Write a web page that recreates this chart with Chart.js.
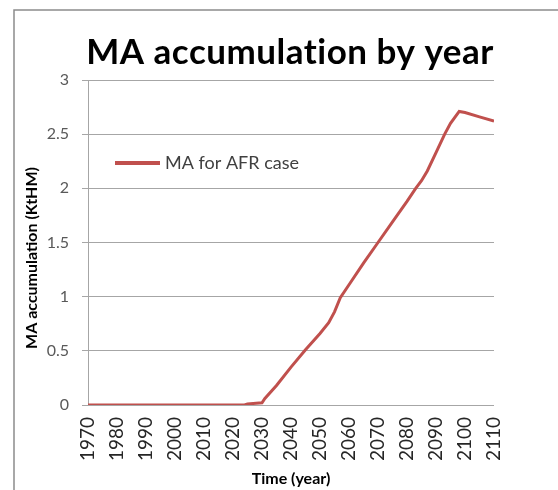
<!DOCTYPE html>
<html>
<head>
<meta charset="utf-8">
<script src="https://cdn.jsdelivr.net/npm/chart.js@4"></script>
<style>
  html, body { margin: 0; padding: 0; background: #fff; }
  #wrap { width: 558px; height: 490px; }
</style>
</head>
<body>
<div id="wrap"><canvas id="myChart" width="558" height="490"></canvas></div>
<script>
// MA accumulation per year, AFR case (KtHM)
const years = [1970, 2024, 2025, 2030, 2031, 2035, 2040, 2045, 2050, 2053, 2055, 2057, 2060, 2065, 2070, 2075, 2080, 2083, 2085, 2087, 2090, 2093, 2095, 2098, 2100, 2105, 2110];
const maAfr = [0, 0, 0.01, 0.02, 0.06, 0.18, 0.35, 0.51, 0.66, 0.76, 0.86, 0.99, 1.11, 1.31, 1.50, 1.69, 1.88, 2.0, 2.07, 2.16, 2.33, 2.5, 2.6, 2.71, 2.70, 2.66, 2.62];
const yTicks = [0, 0.5, 1, 1.5, 2, 2.5, 3];

const seriesName = 'MA for AFR case';
const lineColor = '#c0504d';
const gridColor = '#a6a6a6';

// title, y title, legend and the outer frame are painted by hand
const decorations = {
  id: 'decorations',
  beforeDraw(chart) {
    const ctx = chart.ctx;
    ctx.save();
    ctx.strokeStyle = '#8c8c8c';
    ctx.lineWidth = 1.5;
    ctx.beginPath();
    ctx.moveTo(14, 490);
    ctx.lineTo(14, 10);
    ctx.lineTo(558, 10);
    ctx.stroke();
    ctx.restore();
  },
  afterDraw(chart) {
    const ctx = chart.ctx;
    ctx.save();
    ctx.fillStyle = '#000';
    ctx.font = 'bold 35px Lato';
    ctx.letterSpacing = '0.5px';   // also keeps "ti" from joining
    ctx.textAlign = 'center';
    ctx.textBaseline = 'alphabetic';
    ctx.fillText('MA accumulation by year', 290, 64);
    ctx.letterSpacing = '0px';

    ctx.translate(32, 258);
    ctx.rotate(-Math.PI / 2);
    ctx.font = 'bold 16px Lato';
    ctx.textBaseline = 'middle';
    ctx.fillText('MA accumulation (KtHM)', 0, 0);
    ctx.restore();

    ctx.save();
    ctx.strokeStyle = lineColor;
    ctx.lineWidth = 4;
    ctx.beginPath();
    ctx.moveTo(115, 163);
    ctx.lineTo(160, 163);
    ctx.stroke();
    ctx.fillStyle = '#404040';
    ctx.font = '18px Lato';
    ctx.textBaseline = 'middle';
    ctx.fillText(seriesName, 165, 163);
    ctx.restore();
  }
};

const ctx = document.getElementById('myChart').getContext('2d');
const chart = new Chart(ctx, {
  type: 'line',
  data: {
    datasets: [{
      label: seriesName,
      data: years.map((y, i) => ({ x: y, y: maAfr[i] })),
      borderColor: lineColor,
      borderWidth: 3,
      pointRadius: 0,
      tension: 0,
      fill: false
    }]
  },
  options: {
    responsive: false,
    animation: false,
    layout: { padding: { top: 80, right: 64, left: 0, bottom: 0 } },
    plugins: {
      legend: { display: false },
      tooltip: { enabled: false }
    },
    scales: {
      x: {
        type: 'linear',
        min: 1970,
        max: 2110,
        ticks: {
          stepSize: 10,
          minRotation: 90,
          maxRotation: 90,
          padding: 12,
          color: '#262626',
          font: { family: 'Lato', size: 19 },
          callback: (v) => String(v)
        },
        grid: { display: false, drawTicks: false },
        border: { display: false },
        title: {
          display: true,
          text: 'Time (year)',
          color: '#000',
          font: { family: 'Lato', size: 16, weight: 'bold' },
          padding: { top: 4, bottom: 2 }
        },
        afterFit(scale) { scale.height = 85; }
      },
      y: {
        min: 0,
        max: 3,
        afterBuildTicks(scale) { scale.ticks = yTicks.map(v => ({ value: v })); },
        ticks: {
          padding: 13,
          color: '#595959',
          font: { family: 'Lato', size: 16 },
          callback: (v) => String(v)
        },
        grid: { color: gridColor, lineWidth: 1, tickLength: 6 },
        border: { color: gridColor, width: 1 },
        afterFit(scale) { scale.width = 88; }
      }
    }
  },
  plugins: [decorations]
});
</script>
</body>
</html>
